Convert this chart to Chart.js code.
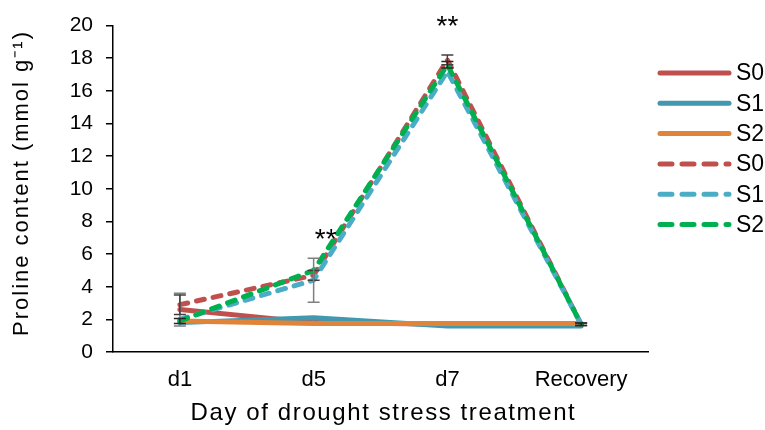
<!DOCTYPE html>
<html>
<head>
<meta charset="utf-8">
<script src="https://cdn.jsdelivr.net/npm/chart.js@4"></script>
<style>
  html, body { margin: 0; padding: 0; background: #fff; }
  #wrap { width: 765px; height: 430px; }
</style>
</head>
<body>
<div id="wrap"><canvas id="lineChart"></canvas></div>
<script>
// data
const days = ["d1", "d5", "d7", "Recovery"];

const solidS0 = [2.6, 1.8, 1.7, 1.7];
const solidS1 = [1.8, 2.1, 1.6, 1.6];
const solidS2 = [1.9, 1.75, 1.75, 1.75];
const dashS0 = [2.9, 4.7, 17.9, 1.7];
const dashS1 = [2.0, 4.4, 17.2, 1.7];
const dashS2 = [1.9, 5.0, 17.6, 1.7];

// error bar half widths
const errSolidS0 = [1.0, 0, 0, 0];
const errDashS0 = [0.6, 0.3, 0.3, 0.08];
const errDashS1 = [0, 1.35, 0, 0];
const errDashS2 = [0.15, 0, 0.2, 0.08];

const yTicks = [0, 2, 4, 6, 8, 10, 12, 14, 16, 18, 20];

// significance marks (value = text baseline)
const starIndex = [1, 2];
const starValue = [6.35, 19.4];
const starText = ["**", "**"];

const xTitle = "Day of drought stress treatment";
const yTitle = "Proline content (mmol g\u207B\u00B9)";

const FONT = "'Liberation Sans', Arial, sans-serif";

function makeSet(label, data, color, dashed, err, errColor, order) {
  return {
    label: label,
    data: data,
    borderColor: color,
    backgroundColor: color,
    borderWidth: 5,
    borderDash: dashed ? [8, 9] : [],
    borderCapStyle: "round",
    borderJoinStyle: "round",
    pointRadius: 0,
    tension: 0,
    err: err,
    errColor: errColor,
    order: order,
  };
}

const datasets = [
  makeSet("S0", solidS0, "#C0504D", false, errSolidS0, "#7F7F7F", 5),
  makeSet("S1", solidS1, "#4198AF", false, null, null, 4),
  makeSet("S2", solidS2, "#E0843A", false, null, null, 3),
  makeSet("S0", dashS0, "#C0504D", true, errDashS0, "#404040", 2),
  makeSet("S1", dashS1, "#4BACC6", true, errDashS1, "#7F7F7F", 1),
  makeSet("S2", dashS2, "#00B050", true, errDashS2, "#262626", 0),
];

// error bars drawn on top of the lines
const errorBars = {
  id: "errorBars",
  afterDatasetsDraw(chart) {
    const ctx = chart.ctx;
    const y = chart.scales.y;
    chart.data.datasets.forEach((ds, i) => {
      if (!ds.err) return;
      const meta = chart.getDatasetMeta(i);
      ctx.save();
      ctx.strokeStyle = ds.errColor;
      ctx.lineWidth = 1.5;
      meta.data.forEach((pt, j) => {
        const e = ds.err[j];
        if (!e) return;
        const top = y.getPixelForValue(ds.data[j] + e);
        const bot = y.getPixelForValue(ds.data[j] - e);
        ctx.beginPath();
        ctx.moveTo(pt.x, top); ctx.lineTo(pt.x, bot);
        ctx.moveTo(pt.x - 6, top); ctx.lineTo(pt.x + 6, top);
        ctx.moveTo(pt.x - 6, bot); ctx.lineTo(pt.x + 6, bot);
        ctx.stroke();
      });
      ctx.restore();
    });
  },
};

const stars = {
  id: "stars",
  afterDraw(chart, args, opts) {
    const ctx = chart.ctx;
    ctx.save();
    ctx.font = "28px " + FONT;
    ctx.fillStyle = "#000";
    ctx.textAlign = "center";
    ctx.textBaseline = "alphabetic";
    starIndex.forEach((idx, k) => {
      const x = chart.scales.x.getPixelForValue(idx) + opts.dx[k];
      const yy = chart.scales.y.getPixelForValue(starValue[k]);
      ctx.fillText(starText[k], x, yy);
    });
    ctx.restore();
  },
};

// axis titles, drawn by hand so the letter spacing can follow the figure
const axisTitles = {
  id: "axisTitles",
  afterDraw(chart) {
    const ctx = chart.ctx;
    const area = chart.chartArea;
    ctx.save();
    ctx.fillStyle = "#000";
    ctx.textAlign = "center";
    ctx.textBaseline = "middle";
    ctx.font = "24px " + FONT;
    ctx.letterSpacing = "1.6px";
    ctx.fillText(xTitle, (area.left + area.right) / 2 + 3, 413);
    ctx.translate(22, 183);
    ctx.rotate(-Math.PI / 2);
    ctx.font = "22px " + FONT;
    ctx.letterSpacing = "2px";
    ctx.fillText(yTitle, 0, 0);
    ctx.restore();
  },
};

// legend with line samples on the right
const sideLegend = {
  id: "sideLegend",
  afterDraw(chart) {
    const ctx = chart.ctx;
    const x0 = 658, x1 = 731, y0 = 73, step = 30.3;
    chart.data.datasets.forEach((ds, i) => {
      const yy = y0 + i * step;
      ctx.save();
      ctx.strokeStyle = ds.borderColor;
      ctx.lineWidth = ds.borderWidth;
      ctx.lineCap = "round";
      ctx.setLineDash(ds.borderDash.length ? [12, 10] : []);
      ctx.beginPath();
      ctx.moveTo(x0 + 2, yy);
      ctx.lineTo(x1 - 2, yy);
      ctx.stroke();
      ctx.setLineDash([]);
      ctx.font = "23px " + FONT;
      ctx.fillStyle = "#000";
      ctx.textBaseline = "middle";
      ctx.fillText(ds.label, 736, yy + 1);
      ctx.restore();
    });
  },
};

new Chart(document.getElementById("lineChart").getContext("2d"), {
  type: "line",
  data: { labels: days, datasets: datasets },
  plugins: [errorBars, stars, axisTitles, sideLegend],
  options: {
    responsive: true,
    maintainAspectRatio: false,
    animation: false,
    layout: { padding: { left: 0, right: 117, top: 20, bottom: 0 } },
    scales: {
      x: {
        offset: true,
        grid: { display: false, drawTicks: false },
        border: { display: true, color: "#000", width: 1.5 },
        ticks: { color: "#000", font: { family: FONT, size: 22 }, padding: 15 },
        afterFit: (s) => { s.height = 78; },
      },
      y: {
        min: 0,
        max: 20,
        afterBuildTicks: (s) => { s.ticks = yTicks.map((v) => ({ value: v })); },
        grid: { display: true, drawOnChartArea: false, drawTicks: true, tickLength: 7, color: "#000", lineWidth: 1.5 },
        border: { display: true, color: "#000", width: 1.5 },
        ticks: { color: "#000", font: { family: FONT, size: 21 }, padding: 13 },
        afterFit: (s) => { s.width = 113; },
      },
    },
    plugins: {
      legend: { display: false },
      tooltip: { enabled: false },
      stars: { dx: [12, 0] },
    },
  },
});
</script>
</body>
</html>
